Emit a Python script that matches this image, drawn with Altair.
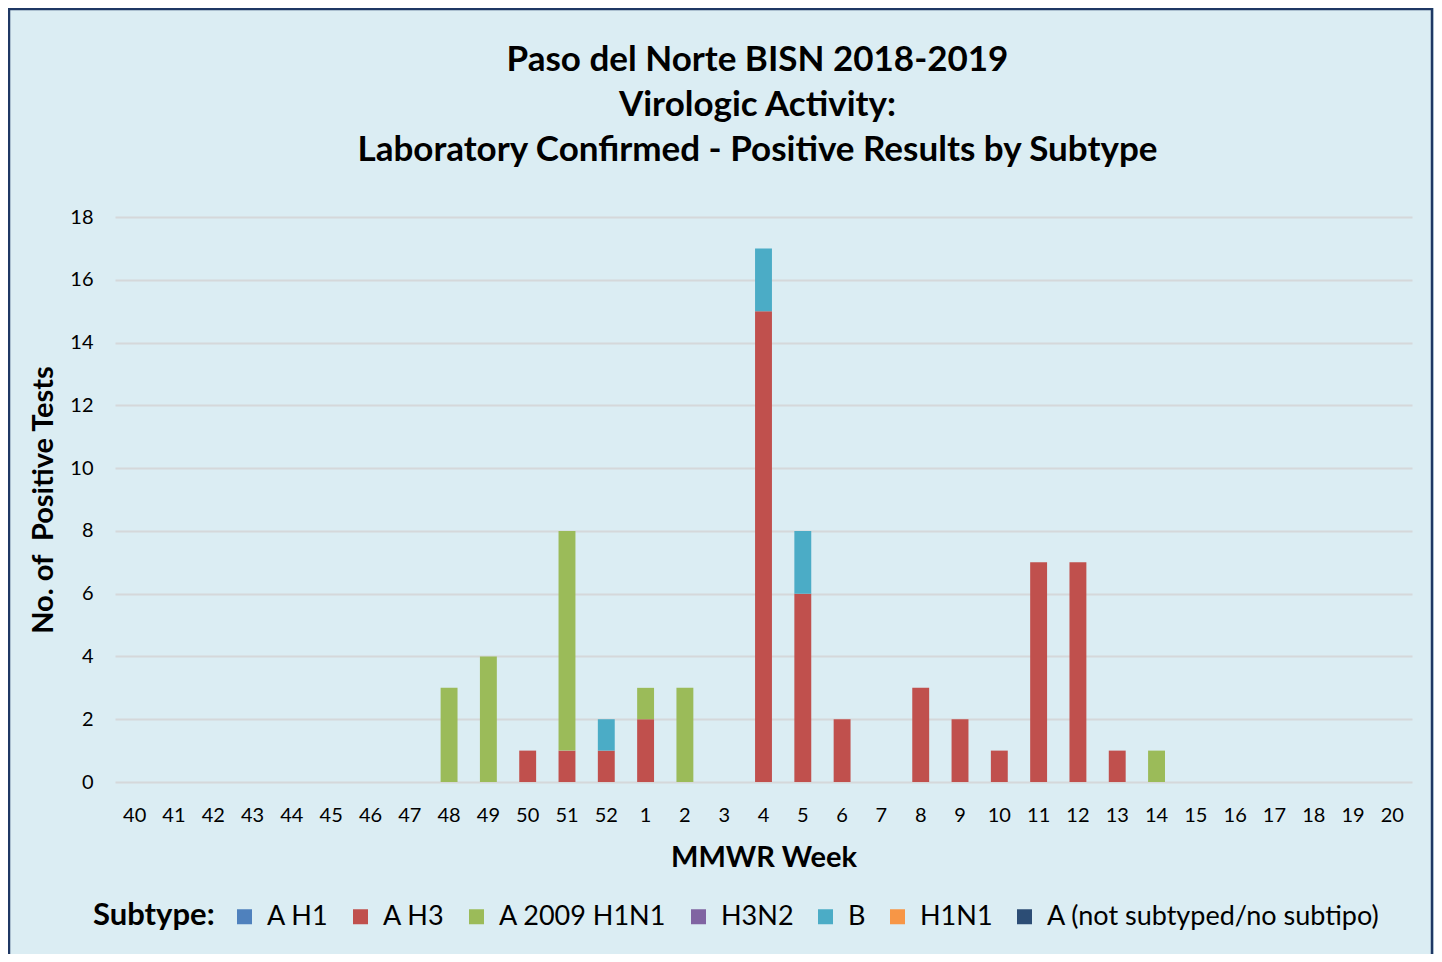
import altair as alt
import pandas as pd

title_lines = ["Paso del Norte BISN 2018-2019", "Virologic Activity:",
               "Laboratory Confirmed - Positive Results by Subtype"]
weeks = [str(w) for w in list(range(40, 53)) + list(range(1, 21))]
subtypes = ["A H1", "A H3", "A 2009 H1N1", "H3N2", "B", "H1N1", "A (not subtyped/no subtipo)"]
colors = ["#4F81BD", "#C0504D", "#9BBB59", "#8064A2", "#4BACC6", "#F79646", "#2C4D75"]

# values per week (same order as weeks)
a_h1 = [0] * 33
a_h3 = [0, 0, 0, 0, 0, 0, 0, 0, 0, 0, 1, 1, 1, 2, 0, 0, 15, 6, 2, 0, 3, 2, 1, 7, 7, 1, 0, 0, 0, 0, 0, 0, 0]
a_2009 = [0, 0, 0, 0, 0, 0, 0, 0, 3, 4, 0, 7, 0, 1, 3, 0, 0, 0, 0, 0, 0, 0, 0, 0, 0, 0, 1, 0, 0, 0, 0, 0, 0]
h3n2 = [0] * 33
b = [0, 0, 0, 0, 0, 0, 0, 0, 0, 0, 0, 0, 1, 0, 0, 0, 2, 2, 0, 0, 0, 0, 0, 0, 0, 0, 0, 0, 0, 0, 0, 0, 0]
h1n1 = [0] * 33
a_not = [0] * 33

series = [a_h1, a_h3, a_2009, h3n2, b, h1n1, a_not]
rows = []
for i, (name, vals) in enumerate(zip(subtypes, series)):
    for w, v in zip(weeks, vals):
        if v > 0:
            rows.append({"week": w, "subtype": name, "count": v, "ord": i})
df = pd.DataFrame(rows)

W, H = 1297, 565
FONT = "Lato"

bars = alt.Chart(df).mark_bar().encode(
    x=alt.X("week:N", sort=weeks, scale=alt.Scale(domain=weeks, paddingInner=0.57, paddingOuter=0.285),
            axis=alt.Axis(title="MMWR Week", labelAngle=0, domain=False, ticks=False, labelPadding=23,
                          labelFontSize=20, labelFont=FONT, labelColor="#000000",
                          titleFontSize=29, titleFont=FONT, titleFontWeight="bold", titleColor="#000000",
                          titlePadding=18, grid=False)),
    y=alt.Y("count:Q", stack="zero", scale=alt.Scale(domain=[0, 18]),
            axis=alt.Axis(title="No. of \u00a0Positive Tests", values=list(range(0, 19, 2)), domain=False,
                          ticks=False, labelPadding=22, labelFontSize=20, labelFont=FONT, labelColor="#000000",
                          gridColor="#D5D8DA", gridWidth=2,
                          titleFontSize=29, titleFont=FONT, titleFontWeight="bold", titleColor="#000000",
                          titleAngle=270, titleX=-63, titleY=H / 2, titleAlign="center",
                          titleBaseline="alphabetic")),
    color=alt.Color("subtype:N", scale=alt.Scale(domain=subtypes, range=colors),
                    legend=alt.Legend(title="Subtype:", orient="none", legendX=-22, legendY=686,
                                      direction="horizontal", titleOrient="left", titleFontSize=31,
                                      titleFont=FONT, titleFontWeight="bold", titleColor="#000000",
                                      titlePadding=16, labelFontSize=27, labelFont=FONT,
                                      labelColor="#000000", symbolType="square", symbolSize=225,
                                      symbolStrokeWidth=0, labelOffset=9, columnPadding=18,
                                      symbolOpacity=1, labelLimit=500)),
    order=alt.Order("ord:Q", sort="ascending"),
)

frame = alt.Chart(pd.DataFrame({"a": [0]})).mark_rect(fill=None, stroke="#1F3864", strokeWidth=2.5).encode(
    x=alt.value(-106), x2=alt.value(W + 20), y=alt.value(-208), y2=alt.value(H + 185)
)

title = alt.Chart(pd.DataFrame({"t": ["\n".join(title_lines)]})).mark_text(
    font=FONT, fontSize=35, fontWeight="bold", color="#000000", align="center", baseline="top",
    lineBreak="\n", lineHeight=45
).encode(text="t:N", x=alt.value(W / 2 - 6), y=alt.value(-174))

chart = alt.layer(frame, bars, title).properties(
    width=W, height=H,
    padding={"left": 107, "top": 209, "right": 22, "bottom": 172},
    autosize=alt.AutoSizeParams(type="none"),
    background="#DBEDF3",
).configure_view(stroke=None)

chart.save("out.html", embed_options={"renderer": "svg", "actions": False})
